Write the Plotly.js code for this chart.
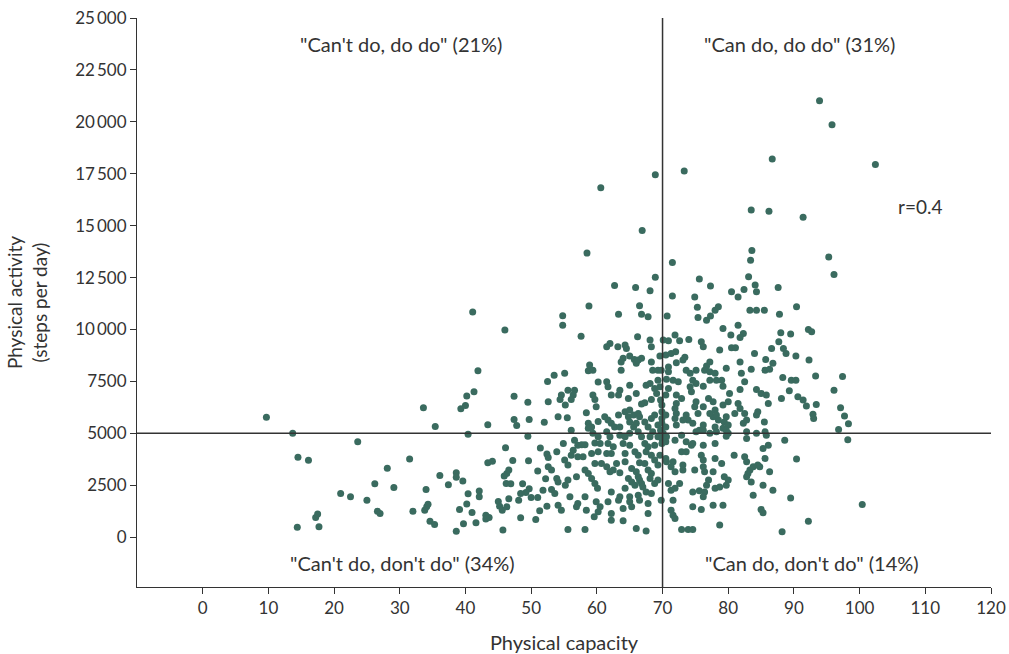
<!DOCTYPE html>
<html>
<head>
<meta charset="utf-8">
<script src="https://cdn.plot.ly/plotly-3.0.1.min.js"></script>
<style>html,body{margin:0;padding:0;background:#fff}#chart{width:1009px;height:654px}</style>
</head>
<body>
<div id="chart"></div>
<script>
// Physical capacity (x) and physical activity in steps per day (y)
const capacity = [
9.7,13.7,14.5,16.1,23.6,21.0,22.5,25.0,26.2,28.1,29.1,31.5,26.6,27.0,17.2,17.5,14.4,17.7,33.6,35.4,40.4,39.3,40.0,40.2,41.3,36.1,38.6,38.6,39.6,37.4,34.0,40.4,40.2,39.1,41.0,32.0,33.8,34.1,34.3,34.6,35.3,38.6,39.7,41.6,42.1,42.1,
41.1,46.0,41.9,47.4,49.5,52.5,52.6,47.4,47.8,49.7,52.0,43.4,49.5,46.1,51.4,52.4,52.6,43.4,44.1,47.2,49.6,46.6,46.3,45.9,51.0,52.2,46.2,46.9,48.7,51.8,49.7,49.2,48.4,50.0,51.0,48.1,46.6,45.0,45.2,45.6,46.3,52.4,51.3,43.1,43.6,43.1,48.4,50.7,45.7,
58.8,54.8,54.8,57.6,58.9,58.7,59.4,55.1,53.5,60.2,55.6,56.6,54.6,54.4,56.4,56.1,59.4,59.7,55.2,59.9,58.4,54.1,55.5,60.2,58.7,59.2,58.7,56.1,59.4,60.2,54.9,56.6,57.1,58.2,57.7,59.7,60.5,53.9,56.4,56.1,59.2,60.2,55.1,55.6,57.1,57.9,59.7,60.7,52.6,53.1,53.9,54.1,56.9,58.2,58.7,59.2,55.6,55.2,59.7,60.1,53.1,53.6,55.9,58.2,57.1,56.9,54.1,54.6,59.9,60.5,60.2,58.4,59.6,55.6,58.2,
62.7,65.9,68.1,63.3,66.5,66.8,67.8,66.2,62.0,61.5,63.2,64.3,64.5,68.1,68.3,64.0,63.7,65.0,65.7,66.0,66.8,66.3,68.3,69.6,63.7,68.5,69.3,69.8,61.5,61.7,65.0,67.5,68.1,69.3,69.6,63.5,63.3,66.0,62.2,68.8,69.1,64.8,68.3,67.3,66.8,61.2,61.7,63.3,64.3,65.0,64.8,65.6,66.3,66.5,68.3,68.8,62.2,62.7,63.5,65.0,65.6,66.0,67.3,67.8,69.3,61.5,62.0,63.5,64.3,65.0,66.3,66.8,68.1,68.5,69.3,61.7,62.5,64.0,65.0,67.3,67.8,68.8,61.5,62.2,64.3,65.8,66.3,67.5,68.3,69.6,63.0,64.3,66.5,67.3,68.8,69.3,61.5,62.0,62.5,63.5,65.3,66.0,67.8,68.3,64.8,65.3,65.8,66.3,66.5,66.8,67.0,68.1,68.8,69.3,62.2,64.3,67.5,68.3,69.8,63.5,63.3,61.7,65.0,65.0,66.3,66.5,67.8,64.0,65.3,62.2,62.2,64.0,67.8,66.0,67.5,
77.3,71.5,74.9,75.3,75.4,76.7,77.3,78.0,70.7,70.1,70.9,71.9,72.6,74.0,75.9,76.2,78.7,70.5,71.3,72.0,73.4,73.1,77.2,76.7,70.9,70.9,72.1,73.6,74.2,75.1,76.4,77.2,70.6,71.6,72.4,74.6,75.1,77.2,78.2,70.9,74.2,74.4,76.2,70.5,69.7,69.9,72.1,72.9,72.1,71.9,75.1,74.9,77.0,77.7,76.2,69.9,70.5,69.9,72.1,71.9,73.6,73.9,75.4,77.2,77.7,78.5,69.9,70.5,69.7,72.1,73.1,74.6,76.2,78.0,70.1,70.6,69.9,72.9,75.1,75.6,76.2,77.2,78.2,69.9,70.5,71.9,73.6,74.4,74.6,76.2,78.0,72.9,73.6,75.9,76.2,70.5,70.6,78.0,71.6,71.3,71.9,73.1,73.1,74.9,76.2,76.4,77.7,70.9,71.3,71.9,72.6,77.0,76.7,74.6,75.6,76.4,76.2,78.0,71.6,74.6,75.9,77.7,71.3,71.6,71.9,78.7,72.9,73.9,74.6,
84.1,84.3,80.5,81.5,82.4,83.3,84.3,85.5,78.5,79.2,81.5,82.3,81.8,80.4,80.5,81.1,84.0,86.6,81.8,82.0,85.7,79.7,83.5,85.6,86.3,78.0,79.0,79.2,82.5,81.8,80.2,84.3,85.0,85.8,79.2,80.0,81.5,81.8,86.1,78.0,78.2,81.0,82.5,84.5,84.3,79.7,79.4,80.0,82.8,82.3,85.5,79.2,79.7,80.0,79.7,82.8,82.8,84.3,85.6,85.8,86.1,85.3,79.0,80.9,82.5,82.8,85.6,83.3,83.8,84.5,84.8,83.0,82.8,86.3,83.5,79.4,80.0,79.7,78.7,85.3,86.8,83.8,79.2,85.0,85.3,
87.6,90.4,87.8,88.0,89.5,92.2,92.7,87.7,88.4,88.8,90.3,92.3,86.8,88.3,89.6,90.3,93.3,89.3,88.1,90.6,91.4,91.9,93.4,92.9,93.0,88.6,90.4,89.5,92.2,88.2,
97.4,96.1,97.1,97.7,98.3,96.8,98.2,100.4,
93.9,95.8,86.7,102.4,68.9,73.3,60.6,83.5,86.2,91.4,66.9,58.5,71.5,83.6,83.4,95.3,96.1,68.9,75.6,83.1
];
const steps = [
5780,5000,3850,3700,4600,2100,1950,1780,2570,3320,2390,3760,1250,1140,950,1120,480,500,6230,5330,4960,6180,6340,6800,7000,2970,3100,2880,2700,2520,2300,2090,1600,1330,1190,1250,1300,1460,1590,770,610,290,640,690,2220,1940,
10840,9970,8010,6780,6500,7500,6520,5670,5380,5670,5530,5410,4860,4300,4290,4000,3840,3580,3650,3690,3680,3230,3070,2940,3180,2810,2590,2570,2570,2260,2330,2150,2100,1910,1910,1780,1850,1720,1490,1300,1460,1490,1270,1050,950,880,930,850,340,
11130,10660,10210,9680,8290,8010,8040,7890,7800,7470,7080,7080,6840,6630,6840,6630,6840,6630,6360,6280,5990,5800,5750,5570,5480,5310,5240,5150,5000,4830,4510,4670,4430,4450,4450,4540,4510,4110,4190,3950,4030,4110,3710,3470,3870,3870,3550,3550,3390,3230,2830,2660,2910,3230,3070,2830,2750,2500,2590,2350,2300,2100,1940,1940,1620,1460,1540,1300,1700,1460,1220,1300,980,370,370,
12120,12020,11860,10730,11140,10730,10610,9650,9330,9170,9170,9250,9090,9490,9170,8610,8440,8720,8560,8370,8610,8530,8440,8720,8040,8040,8040,8040,7480,7240,7320,7320,7400,7560,7240,7080,6840,6920,6840,7160,6920,6680,6630,6470,6410,5800,5640,5880,6040,6120,5800,5880,5960,5800,5720,5880,5480,5310,5310,5550,5310,5480,5550,5310,5400,5070,4830,4910,4830,5000,5070,4830,4830,5070,4830,4510,4350,4510,4430,4510,4350,4430,4030,4030,4030,4110,3950,4110,3950,3950,3550,3630,3580,3550,3710,3470,3390,3150,3230,3100,3310,3150,3230,3070,2830,2660,2500,2910,2750,2590,2420,2830,2590,2750,2180,2350,2180,2100,1780,1940,1780,1700,1940,1700,2020,1780,1620,1380,1460,1140,820,790,1140,420,300,
12090,11610,11570,11070,10580,10450,10650,10930,10650,9490,9460,9730,9460,9520,9410,9170,9010,8770,8850,8930,8660,8530,8440,8240,8200,7960,8400,8040,7890,8040,8040,7960,7600,7560,7480,7560,7400,7560,7560,7160,7240,7000,7270,6840,6600,6360,6840,6680,6440,6200,6520,6280,6680,6520,6280,6040,5880,5720,5960,5720,5880,5640,5960,5960,5800,5640,5480,5310,5150,5400,5640,5480,5400,5310,5000,4830,4750,4910,5070,5150,5150,5000,5070,4510,4590,4670,4590,4430,4510,4430,4510,4110,4110,3950,3710,3790,3630,3790,3630,3390,3150,3470,3230,3230,3390,3150,3150,2590,2260,2350,2590,2750,2500,2180,2230,2180,1940,2350,1780,1460,1330,1540,1300,1060,900,580,370,370,370,
12140,11820,11820,11570,11930,10930,10930,10930,11090,10050,10210,9810,9620,9730,9120,9120,8850,9090,8440,7890,8560,8130,8080,8040,8080,7890,7560,7270,7480,7110,6920,7110,6920,6840,6360,6520,6440,6200,6440,6120,5880,5960,5960,6040,5880,5800,5550,5400,5640,5480,5550,5240,5150,5000,4860,5070,4750,5000,5070,4910,4430,4270,3550,3950,3870,3630,3790,3230,3390,3470,3390,3070,2910,3150,2660,2910,2750,2500,2420,2500,2260,2020,1540,1330,1170,
12020,11090,10730,9840,9780,10000,9890,9410,9090,8850,8720,8530,8370,7690,7560,7560,7760,7050,6680,6760,6600,6310,6390,5920,5720,4670,3760,1890,770,260,
7740,7070,6230,5840,5460,5190,4690,1570,
21020,19860,18210,17950,17450,17630,16830,15750,15690,15400,14770,13680,13230,13810,13330,13490,12650,12510,12430,12540
];
const xTicks = [0,10,20,30,40,50,60,70,80,90,100,110,120];
const yTicks = [0,2500,5000,7500,10000,12500,15000,17500,20000,22500,25000];
const yTickText = ['0','2500','5000','7500','10\u2009000','12\u2009500','15\u2009000','17\u2009500','20\u2009000','22\u2009500','25\u2009000'];
const capacityCut = 70;
const stepsCut = 5000;
const quadrantLabels = ['"Can\'t do, do do" (21%)','"Can do, do do" (31%)','"Can\'t do, don\'t do" (34%)','"Can do, don\'t do" (14%)'];
const quadrantX = [30.2, 90.8, 30.4, 92.7];
const quadrantY = [23750, 23750, -1250, -1250];
const corrText = 'r=0.4';

const FONT = 'Lato, "Source Sans Pro", "Open Sans", sans-serif';
const TXT = '#333333';

const trace = {
  type: 'scatter', mode: 'markers', x: capacity, y: steps,
  marker: {color: '#3a6b5f', size: 7, line: {width: 0}},
  hoverinfo: 'x+y', showlegend: false
};

const annotations = quadrantLabels.map((t, i) => ({
  text: t, x: quadrantX[i], y: quadrantY[i], xref: 'x', yref: 'y',
  showarrow: false, font: {family: FONT, size: 20, color: TXT}, xanchor: 'center', yanchor: 'middle'
}));
annotations.push({text: corrText, x: 109.2, y: 15940, xref: 'x', yref: 'y', showarrow: false,
  font: {family: FONT, size: 19, color: TXT}, xanchor: 'center', yanchor: 'middle'});

const layout = {
  width: 1009, height: 654,
  margin: {l: 137, r: 18, t: 18, b: 67},
  paper_bgcolor: '#ffffff', plot_bgcolor: '#ffffff',
  font: {family: FONT, size: 17, color: TXT},
  xaxis: {
    range: [-10, 120], tickvals: xTicks, ticks: 'outside', ticklen: 6, tickcolor: '#333',
    showgrid: false, zeroline: false, showline: true, linecolor: '#333', linewidth: 1,
    tickfont: {family: FONT, size: 17, color: TXT},
    title: {text: 'Physical capacity', font: {family: FONT, size: 20, color: TXT}, standoff: 21}
  },
  yaxis: {
    range: [-2400, 25000], tickvals: yTicks, ticktext: yTickText, ticks: 'outside', ticklen: 6, tickcolor: '#333',
    showgrid: false, zeroline: false, showline: true, linecolor: '#333', linewidth: 1,
    tickfont: {family: FONT, size: 17, color: TXT},
    title: {text: 'Physical activity<br>(steps per day)', font: {family: FONT, size: 19, color: TXT}, standoff: 22}
  },
  shapes: [
    {type: 'line', xref: 'x', yref: 'paper', x0: capacityCut, x1: capacityCut, y0: 0, y1: 1, line: {color: '#333', width: 1.5}},
    {type: 'line', xref: 'paper', yref: 'y', x0: 0, x1: 1, y0: stepsCut, y1: stepsCut, line: {color: '#333', width: 1.5}}
  ],
  annotations: annotations
};

Plotly.newPlot('chart', [trace], layout, {displayModeBar: false, staticPlot: true});
</script>
</body>
</html>
